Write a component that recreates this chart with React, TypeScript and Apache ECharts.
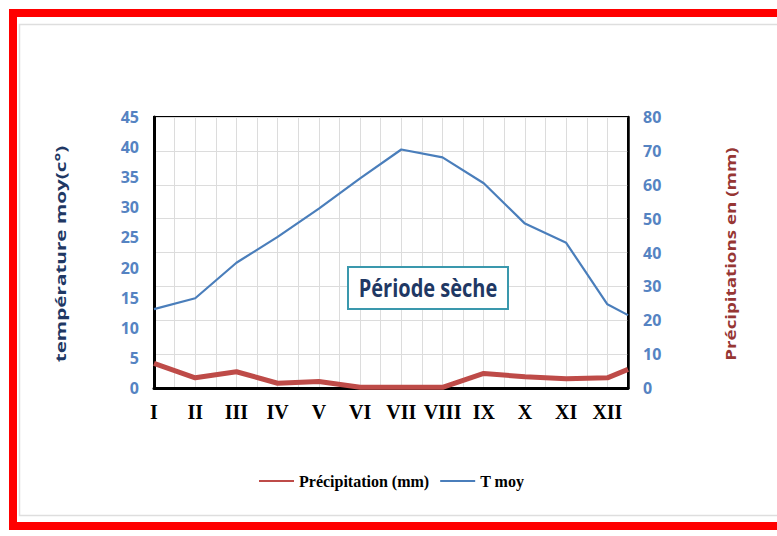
import React, { useEffect, useRef } from "react";
import * as echarts from "echarts";

// Monthly climate data (Roman-numeral months)
const months = ["I", "II", "III", "IV", "V", "VI", "VII", "VIII", "IX", "X", "XI", "XII"];
const temperature = [13.1, 14.9, 20.8, 25.1, 29.8, 34.8, 39.6, 38.3, 34.0, 27.3, 24.1, 13.9];
const precipitation = [7.3, 3.0, 4.8, 1.4, 1.9, 0.2, 0.2, 0.2, 4.3, 3.3, 2.7, 3.0];
// closing half-step point after December
const closingPosition = 11.5;
const temperatureClosing = 12.1;
const precipitationClosing = 5.5;

const tempTicks = { min: 0, max: 45, interval: 5 };
const precipTicks = { min: 0, max: 80, interval: 10 };

const positions = [...months.map((_, i) => i), closingPosition];
const tempData = [...temperature, temperatureClosing].map((v, i) => [positions[i], v]);
const precipData = [...precipitation, precipitationClosing].map((v, i) => [positions[i], v]);

export default function App() {
  const ref = useRef<HTMLDivElement>(null);

  useEffect(() => {
    if (!ref.current) return;
    const chart = echarts.init(ref.current, null, { renderer: "svg" });
    const tickLabel = {
      color: "#5583c2",
      fontFamily: "Open Sans",
      fontWeight: "bold" as const,
      fontSize: 16,
    };
    chart.setOption({
      animation: false,
      backgroundColor: "#ffffff",
      grid: {
        left: 154,
        right: 149,
        top: 117,
        bottom: 148,
        show: true,
        borderColor: "#000000",
        borderWidth: 2,
        backgroundColor: "transparent",
      },
      legend: {
        left: 253,
        top: 468,
        itemWidth: 35,
        itemHeight: 14,
        itemGap: 10,
        // show only the line sample, no marker in its middle
        itemStyle: { opacity: 0 },
        textStyle: {
          fontFamily: "Liberation Serif",
          fontWeight: "bold",
          fontSize: 16,
          color: "#000000",
        },
        data: ["Précipitation (mm)", "T moy"],
      },
      xAxis: {
        type: "value",
        min: 0,
        max: closingPosition,
        interval: 0.5,
        axisLine: { show: true, onZero: false, lineStyle: { color: "#000000", width: 3 } },
        axisTick: { show: false },
        splitLine: { show: true, lineStyle: { color: "#dcdcdc", width: 1 } },
        axisLabel: {
          margin: 14,
          color: "#000000",
          fontFamily: "Liberation Serif",
          fontWeight: "bold",
          fontSize: 20,
          showMaxLabel: false,
          formatter: (v: number) => (Number.isInteger(v) ? months[v] ?? "" : ""),
        },
      },
      yAxis: [
        {
          type: "value",
          position: "left",
          min: tempTicks.min,
          max: tempTicks.max,
          interval: tempTicks.interval,
          axisLine: { show: true, lineStyle: { color: "#000000", width: 3 } },
          axisTick: { show: false },
          splitLine: { show: false },
          axisLabel: { ...tickLabel, margin: 15 },
        },
        {
          type: "value",
          position: "right",
          min: precipTicks.min,
          max: precipTicks.max,
          interval: precipTicks.interval,
          axisLine: { show: true, lineStyle: { color: "#000000", width: 2.5 } },
          axisTick: { show: false },
          splitLine: { show: true, lineStyle: { color: "#dcdcdc", width: 1 } },
          axisLabel: { ...tickLabel, margin: 15 },
        },
      ],
      series: [
        {
          name: "Précipitation (mm)",
          type: "line",
          yAxisIndex: 1,
          data: precipData,
          symbol: "none",
          lineStyle: { color: "#be4b48", width: 5 },
          itemStyle: { color: "#be4b48" },
          z: 3,
        },
        {
          name: "T moy",
          type: "line",
          yAxisIndex: 0,
          data: tempData,
          symbol: "none",
          lineStyle: { color: "#4a7ebb", width: 2.2 },
          itemStyle: { color: "#4a7ebb" },
          z: 4,
        },
      ],
      graphic: [
        // outer red frame (its right side runs past the page edge)
        {
          type: "rect",
          silent: true,
          shape: { x: 13, y: 13, width: 900, height: 513 },
          style: { fill: "none", stroke: "#ff0000", lineWidth: 8 },
          z: 10,
        },
        // faint chart-area border
        {
          type: "rect",
          silent: true,
          shape: { x: 19.5, y: 24.5, width: 900, height: 491 },
          style: { fill: "none", stroke: "#dedede", lineWidth: 1.5 },
          z: 9,
        },
        // left axis title
        {
          type: "text",
          x: 60,
          y: 254,
          rotation: Math.PI / 2,
          scaleX: 1.38,
          style: {
            text: "température moy(c°)",
            fill: "#1f3864",
            font: "bold 15px 'Open Sans'",
            align: "center",
            verticalAlign: "middle",
            textAlign: "center",
            textVerticalAlign: "middle",
          },
        },
        // right axis title
        {
          type: "text",
          x: 730,
          y: 254,
          rotation: Math.PI / 2,
          scaleX: 1.25,
          style: {
            text: "Précipitations en (mm)",
            fill: "#963634",
            font: "bold 15px 'Open Sans'",
            align: "center",
            verticalAlign: "middle",
            textAlign: "center",
            textVerticalAlign: "middle",
          },
        },
        // dry-season annotation box
        {
          type: "rect",
          shape: { x: 348, y: 267, width: 160, height: 42 },
          style: { fill: "#ffffff", stroke: "#3a98ad", lineWidth: 2 },
          z: 5,
        },
        {
          type: "text",
          x: 428,
          y: 288,
          scaleY: 1.25,
          style: {
            text: "Période sèche",
            fill: "#1f3864",
            font: "bold 20px 'Open Sans'",
            align: "center",
            verticalAlign: "middle",
            textAlign: "center",
            textVerticalAlign: "middle",
          },
          z: 6,
        },
      ],
    });
    return () => chart.dispose();
  }, []);

  return (
    <div
      ref={ref}
      style={{ position: "fixed", left: 0, top: 0, width: 777, height: 536 }}
    />
  );
}
